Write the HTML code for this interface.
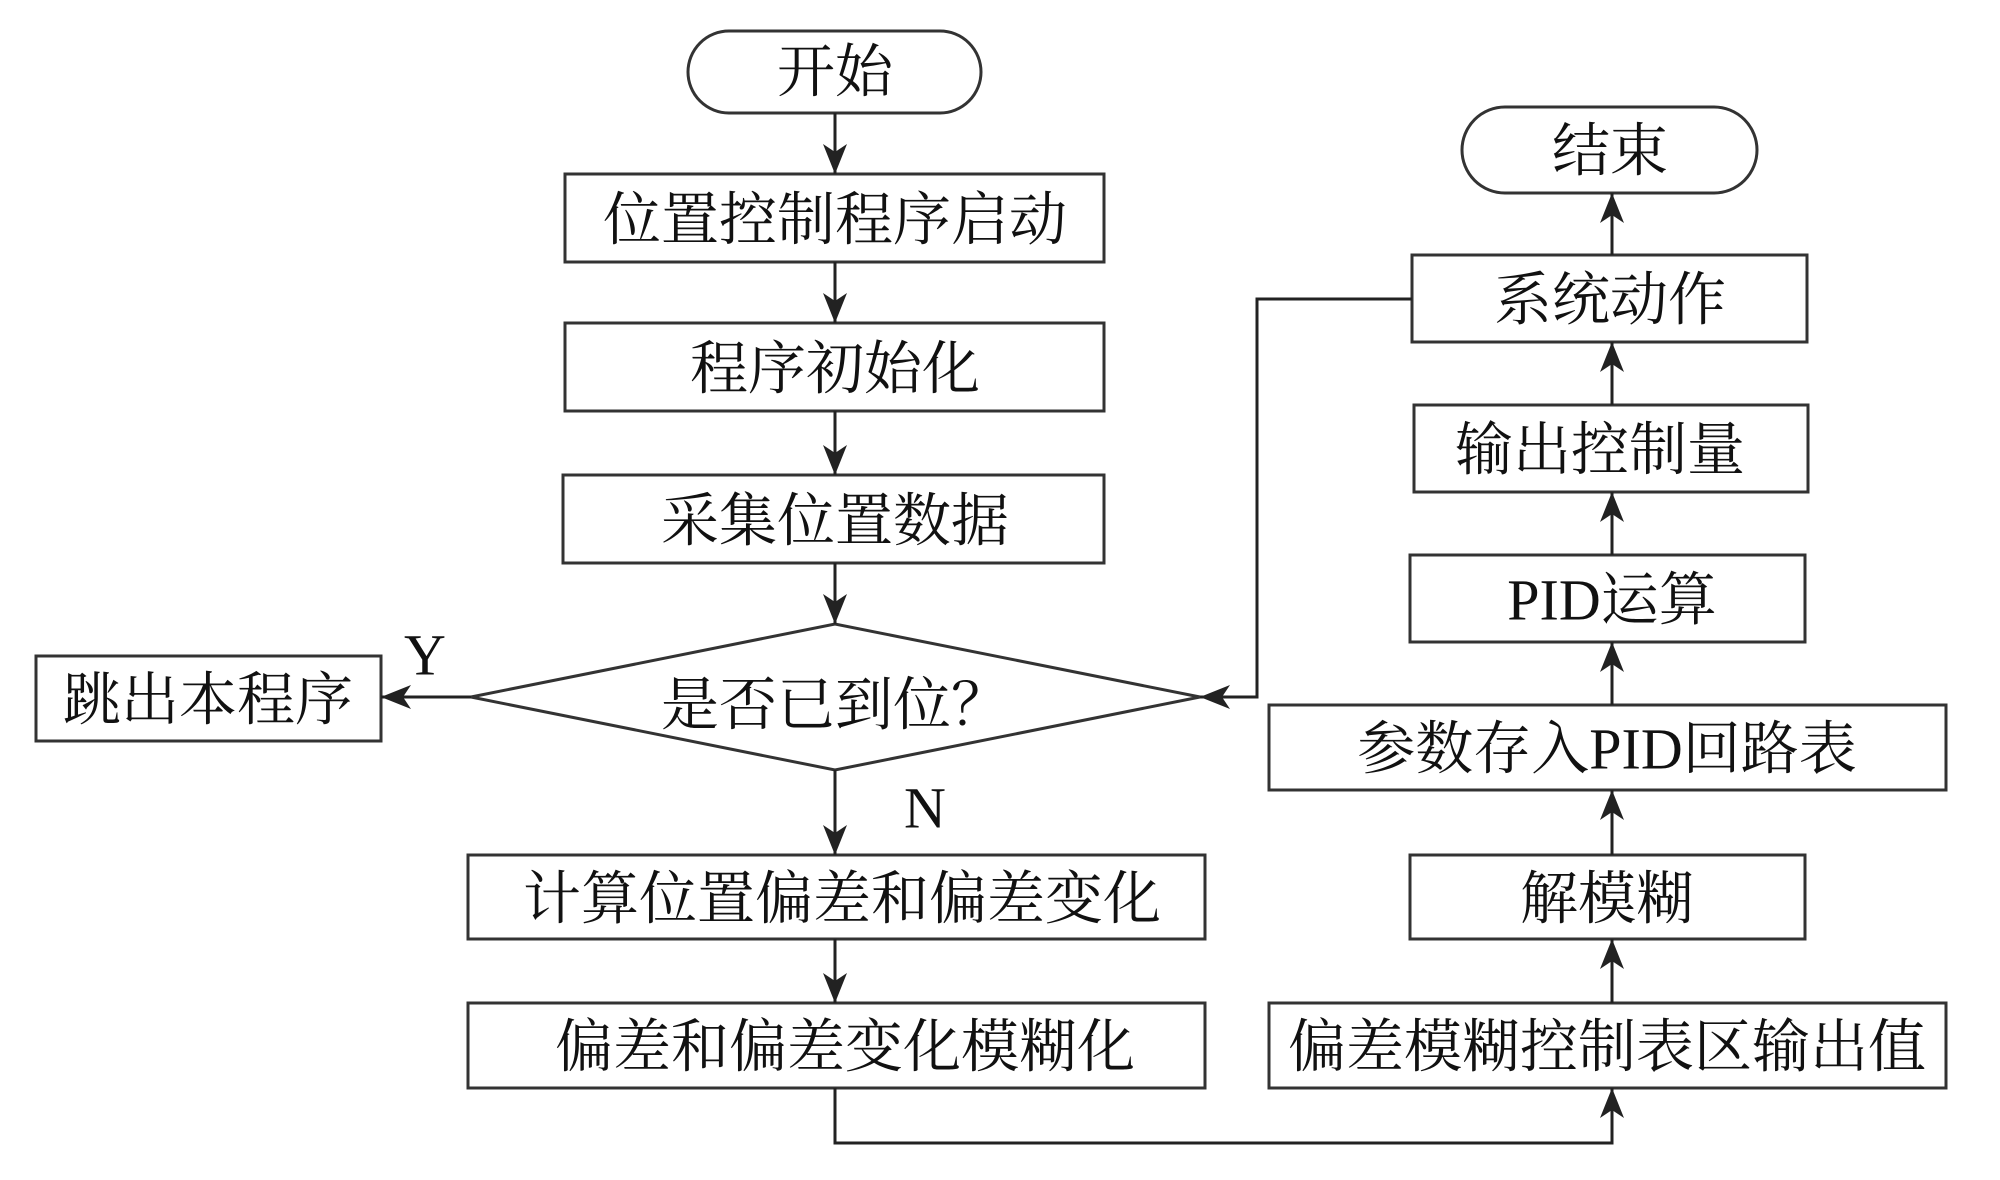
<!DOCTYPE html>
<html><head><meta charset="utf-8"><style>
html,body{margin:0;padding:0;background:#fff;}
svg text{font-family:"Liberation Serif","Noto Serif CJK SC",serif;font-size:58px;fill:#111;text-anchor:middle;dominant-baseline:central;}
</style></head><body>
<svg width="2000" height="1175" viewBox="0 0 2000 1175" xmlns="http://www.w3.org/2000/svg">
<defs>
<marker id="b" viewBox="0 0 30 30" markerWidth="30" markerHeight="30" refX="30" refY="15" orient="auto" markerUnits="userSpaceOnUse"><path d="M0,3 L30,15 L0,27 L8,15 Z" fill="#222"/></marker></defs>
<g fill="none" stroke="#333" stroke-width="3">
<rect x="688" y="31" width="293" height="82" rx="41"/>
<rect x="565" y="174" width="539" height="88"/>
<rect x="565" y="323" width="539" height="88"/>
<rect x="563" y="475" width="541" height="88"/>
<polygon points="471,697 835,624 1200,697 835,770"/>
<rect x="36" y="656" width="345" height="85"/>
<rect x="468" y="855" width="737" height="84"/>
<rect x="468" y="1003" width="737" height="85"/>
<rect x="1462" y="107" width="295" height="86" rx="43"/>
<rect x="1412" y="255" width="395" height="87"/>
<rect x="1414" y="405" width="394" height="87"/>
<rect x="1410" y="555" width="395" height="87"/>
<rect x="1269" y="705" width="677" height="85"/>
<rect x="1410" y="855" width="395" height="84"/>
<rect x="1269" y="1003" width="677" height="85"/>
</g>
<g stroke="#222" stroke-width="3" fill="none" marker-end="url(#b)">
<line x1="835" y1="113" x2="835" y2="174"/>
<line x1="835" y1="262" x2="835" y2="323"/>
<line x1="835" y1="411" x2="835" y2="475"/>
<line x1="835" y1="563" x2="835" y2="624"/>
<line x1="835" y1="770" x2="835" y2="855"/>
<line x1="835" y1="939" x2="835" y2="1003"/>
<line x1="471" y1="697" x2="381" y2="697"/>
<polyline points="835,1088 835,1143 1612,1143 1612,1088"/>
<line x1="1612" y1="1003" x2="1612" y2="939"/>
<line x1="1612" y1="855" x2="1612" y2="790"/>
<line x1="1612" y1="705" x2="1612" y2="642"/>
<line x1="1612" y1="555" x2="1612" y2="492"/>
<line x1="1612" y1="405" x2="1612" y2="342"/>
<line x1="1612" y1="255" x2="1612" y2="193"/>
<polyline points="1412,299 1257,299 1257,697 1200,697"/>
</g>
<text x="835" y="72">开始</text>
<text x="835" y="220">位置控制程序启动</text>
<text x="835" y="369">程序初始化</text>
<text x="835" y="521">采集位置数据</text>
<text x="835" y="705">是否已到位？</text>
<text x="208" y="700">跳出本程序</text>
<text x="425" y="655">Y</text>
<text x="925" y="808">N</text>
<text x="842" y="899">计算位置偏差和偏差变化</text>
<text x="845" y="1047">偏差和偏差变化模糊化</text>
<text x="1610" y="151">结束</text>
<text x="1610" y="300">系统动作</text>
<text x="1600" y="450">输出控制量</text>
<text x="1612" y="600">PID运算</text>
<text x="1607" y="749">参数存入PID回路表</text>
<text x="1607" y="899">解模糊</text>
<text x="1607" y="1047">偏差模糊控制表区输出值</text>
</svg>
</body></html>
